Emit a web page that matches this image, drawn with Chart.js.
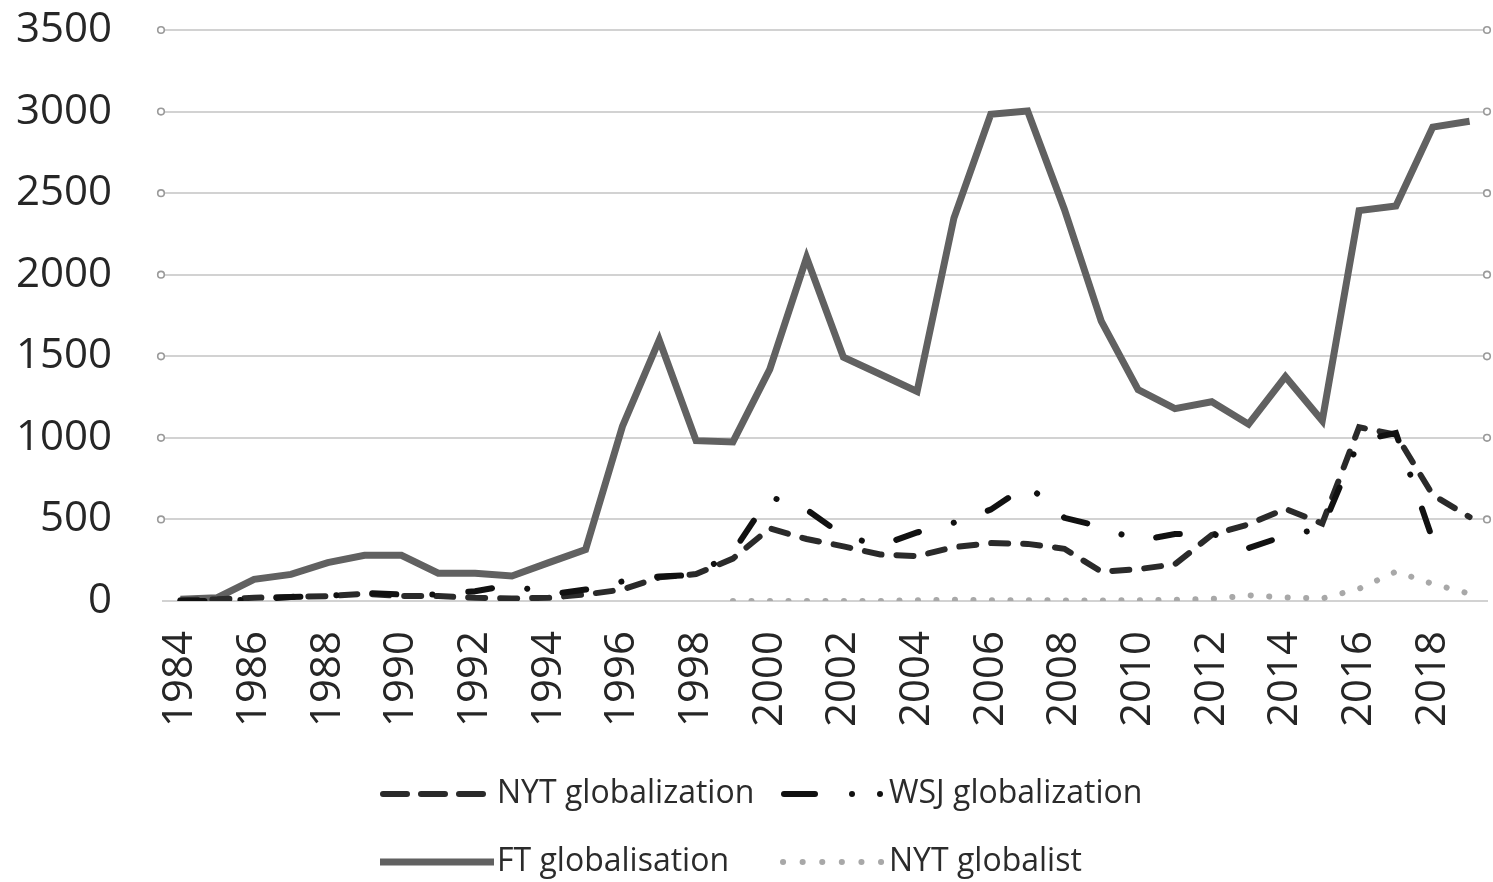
<!DOCTYPE html>
<html><head><meta charset="utf-8">
<script src="https://cdn.jsdelivr.net/npm/chart.js@4.4.1/dist/chart.umd.min.js"></script>
<style>html,body{margin:0;padding:0;background:#fff;}#wrap{width:1493px;height:882px;}</style>
</head><body><div id="wrap"><canvas id="c" width="1493" height="882"></canvas></div>
<script>
const years = ['1984','1985','1986','1987','1988','1989','1990','1991','1992','1993','1994','1995','1996','1997','1998','1999','2000','2001','2002','2003','2004','2005','2006','2007','2008','2009','2010','2011','2012','2013','2014','2015','2016','2017','2018','2019'];
const nytGlobalization = [5,10,20,25,30,45,30,30,20,15,20,40,70,145,165,260,445,380,335,285,275,330,355,350,320,180,195,225,405,470,565,475,1065,1020,650,515];
const wsjGlobalization = [0,0,10,25,30,50,40,40,60,100,40,70,120,150,160,300,640,560,400,340,420,480,560,710,510,455,370,410,415,325,400,445,980,1030,375,null];
const ftGlobalisation = [10,20,133,163,235,280,280,170,170,153,235,316,1070,1600,983,975,1420,2105,1495,1390,1284,2347,2983,3004,2400,1716,1295,1179,1221,1084,1375,1105,2393,2421,2905,2941];
const nytGlobalist = [null,null,null,null,null,null,null,null,null,null,null,null,null,null,null,0,0,0,0,0,5,8,5,5,3,3,5,8,12,35,22,15,75,180,105,45];
const seriesNames = ['NYT globalization','WSJ globalization','FT globalisation','NYT globalist'];
const yMin = 0, yMax = 3500, yStep = 500;

const FONT = "'Open Sans', sans-serif";

const gridDots = {
  id: 'gridDots',
  afterDraw(chart) {
    const ctx = chart.ctx, ya = chart.scales.y, a = chart.chartArea;
    ctx.save();
    ctx.strokeStyle = '#9a9a9a';
    ctx.fillStyle = '#fff';
    ctx.lineWidth = 1.6;
    ya.ticks.forEach(t => {
      if (t.value === 0) return;
      const y = ya.getPixelForValue(t.value);
      [a.left - 1, a.right - 1].forEach(x => {
        ctx.beginPath(); ctx.arc(x, y, 3.3, 0, Math.PI * 2); ctx.fill(); ctx.stroke();
      });
    });
    ctx.restore();
  }
};

const customLegend = {
  id: 'customLegend',
  afterDraw(chart) {
    const ctx = chart.ctx;
    const ds = chart.data.datasets;
    const items = [
      {i:0, x:380, y:794, tx:497},
      {i:1, x:781, y:794, tx:889},
      {i:2, x:380, y:862, tx:497},
      {i:3, x:781, y:862, tx:889}
    ];
    ctx.save();
    items.forEach(it => {
      const d = ds[it.i];
      ctx.strokeStyle = d.borderColor;
      ctx.lineWidth = d.borderWidth;
      ctx.lineCap = 'butt';
      if (it.i === 0) {
        ctx.lineCap = 'round';
        ctx.setLineDash([24, 14]);
        ctx.beginPath(); ctx.moveTo(it.x + 3, it.y); ctx.lineTo(it.x + 103, it.y); ctx.stroke();
      } else if (it.i === 1) {
        ctx.lineCap = 'round';
        ctx.setLineDash([]);
        ctx.beginPath(); ctx.moveTo(it.x + 3, it.y); ctx.lineTo(it.x + 34, it.y); ctx.stroke();
        ctx.fillStyle = d.borderColor;
        [852, 880].forEach(cx => { ctx.beginPath(); ctx.arc(cx, it.y, 3, 0, Math.PI*2); ctx.fill(); });
      } else if (it.i === 2) {
        ctx.setLineDash([]);
        ctx.beginPath(); ctx.moveTo(it.x, it.y); ctx.lineTo(it.x + 114, it.y); ctx.stroke();
      } else {
        ctx.lineCap = 'round';
        ctx.setLineDash([0.1, 19.5]);
        ctx.beginPath(); ctx.moveTo(it.x + 2, it.y); ctx.lineTo(it.x + 102, it.y); ctx.stroke();
      }
      ctx.setLineDash([]);
      ctx.fillStyle = '#2b2b2b';
      ctx.font = "32px " + FONT;
      ctx.textBaseline = 'middle';
      ctx.textAlign = 'left';
      ctx.fillText(seriesNames[it.i], it.tx, it.y);
    });
    ctx.restore();
  }
};

function zeroPad(s) { s.paddingTop = 0; s.paddingBottom = 0; s.paddingLeft = 0; s.paddingRight = 0; }

new Chart(document.getElementById('c'), {
  type: 'line',
  data: {
    labels: years,
    datasets: [
      {label: seriesNames[0], data: nytGlobalization, borderColor: '#2a2a2a', borderWidth: 6,
       borderDash: [17, 15], borderCapStyle: 'round', pointRadius: 0, tension: 0, order: 2},
      {label: seriesNames[1], data: wsjGlobalization, borderColor: '#111111', borderWidth: 6,
       borderDash: [24, 36, 0.1, 36], borderCapStyle: 'round', pointRadius: 0, tension: 0, order: 1},
      {label: seriesNames[2], data: ftGlobalisation, borderColor: '#616161', borderWidth: 7,
       pointRadius: 0, tension: 0, borderJoinStyle: 'miter', order: 3},
      {label: seriesNames[3], data: nytGlobalist, borderColor: '#a8a8a8', borderWidth: 6,
       borderDash: [0.1, 18.4], borderCapStyle: 'round', pointRadius: 0, tension: 0, order: 4}
    ]
  },
  options: {
    responsive: false,
    animation: false,
    devicePixelRatio: 1,
    layout: {padding: {left: 0, right: 5, top: 30, bottom: 150}},
    plugins: {legend: {display: false}, tooltip: {enabled: false}},
    scales: {
      x: {
        offset: true,
        grid: {display: false, drawTicks: false},
        border: {display: false},
        ticks: {
          autoSkip: false, maxRotation: 90, minRotation: 90, padding: 30,
          color: '#262626', font: {family: FONT, size: 42},
          callback: function(v, i) { return i % 2 === 0 ? years[i] : ''; }
        },
        afterFit(s) { s.height = 131; zeroPad(s); }
      },
      y: {
        min: yMin, max: yMax,
        grid: {color: '#d2d2d2', lineWidth: 2, drawTicks: false},
        border: {display: false},
        ticks: {stepSize: yStep, padding: 50, color: '#262626', font: {family: FONT, size: 42},
          callback: function(v) { return String(v); }},
        afterFit(s) { s.width = 162; zeroPad(s); }
      }
    }
  },
  plugins: [gridDots, customLegend]
});
</script></body></html>
